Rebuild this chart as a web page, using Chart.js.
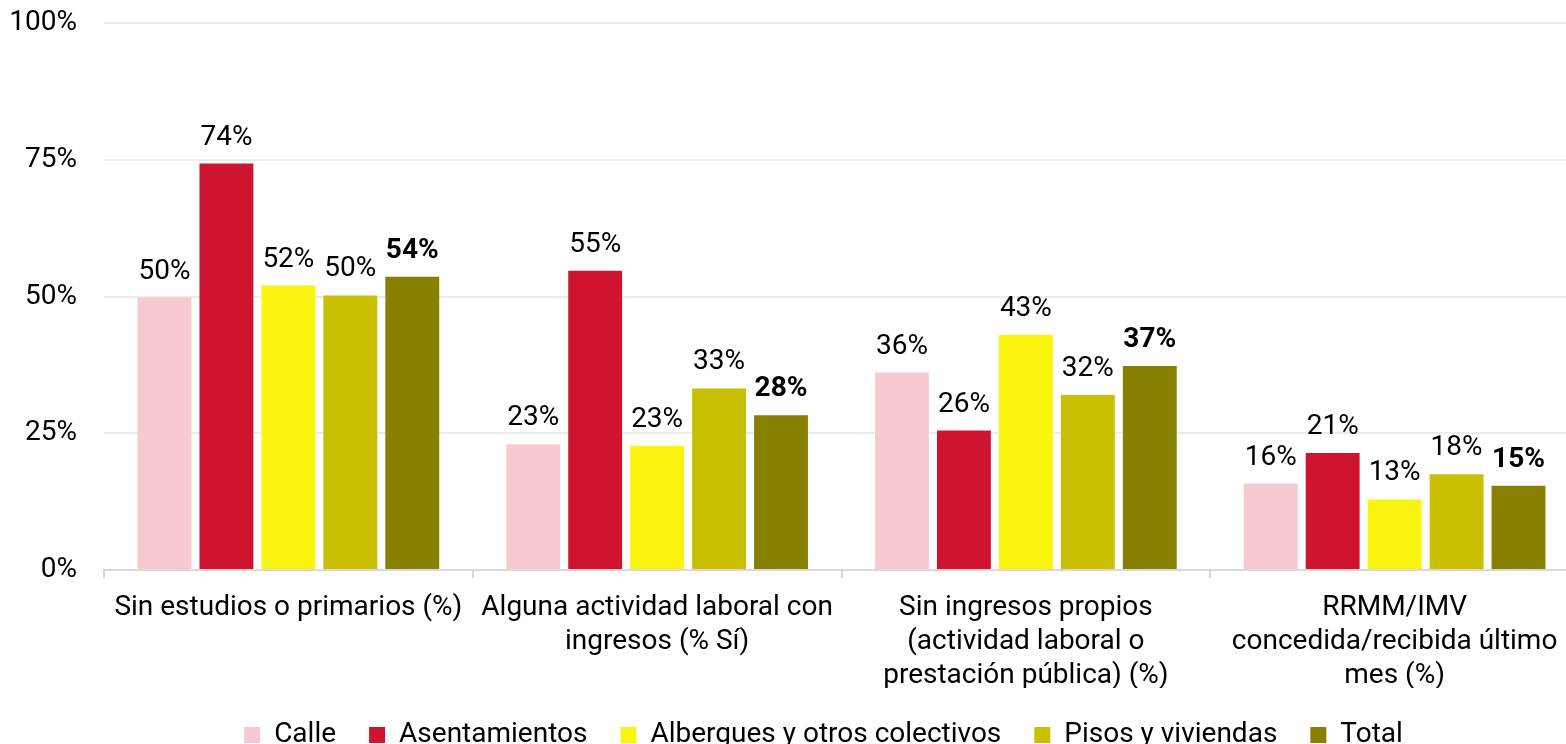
<!DOCTYPE html>
<html>
<head>
<meta charset="utf-8">
<script src="https://cdn.jsdelivr.net/npm/chart.js@4"></script>
<style>
html,body{margin:0;padding:0;overflow:hidden;background:#fff;}
#wrap{width:1580px;height:759px;}
</style>
</head>
<body>
<div id="wrap"><canvas id="c" width="1580" height="759"></canvas></div>
<script>
const categories = [
  ["Sin estudios o primarios (%)"],
  ["Alguna actividad laboral con", "ingresos (% Sí)"],
  ["Sin ingresos propios", "(actividad laboral o", "prestación pública) (%)"],
  ["RRMM/IMV", "concedida/recibida último", "mes (%)"]
];
const seriesNames = ["Calle", "Asentamientos", "Albergues y otros colectivos", "Pisos y viviendas", "Total"];
const calle = [49.8, 23.0, 36.1, 15.8];
const asentamientos = [74.3, 54.7, 25.5, 21.4];
const albergues = [52.0, 22.7, 43.0, 12.9];
const pisos = [50.2, 33.2, 32.0, 17.5];
const total = [53.6, 28.3, 37.3, 15.4];
const yTicks = [0, 25, 50, 75, 100];

const colors = ["#F8C9D0", "#CE142E", "#FBF40F", "#C8C000", "#878000"];
const seriesValues = [calle, asentamientos, albergues, pisos, total];
const FONT = "Roboto";
const FS = 28;

const datasets = seriesNames.map((n, i) => ({
  label: n,
  data: seriesValues[i],
  backgroundColor: colors[i],
  borderWidth: 0,
  categoryPercentage: 0.84,
  barPercentage: 0.87
}));

const labelPlugin = {
  id: 'valueLabels',
  afterDatasetsDraw(chart) {
    const ctx = chart.ctx;
    ctx.save();
    ctx.fillStyle = '#000';
    ctx.textAlign = 'center';
    ctx.textBaseline = 'alphabetic';
    chart.data.datasets.forEach((ds, di) => {
      const meta = chart.getDatasetMeta(di);
      const bold = di === chart.data.datasets.length - 1;
      ctx.font = (bold ? 'bold ' : '') + FS + 'px ' + FONT;
      meta.data.forEach((bar, i) => {
        ctx.fillText(Math.round(ds.data[i]) + '%', bar.x, bar.y - 19);
      });
    });
    ctx.restore();
  }
};

const legendShift = {
  id: 'legendShift',
  afterLayout(chart) {
    if (chart.legend) { chart.legend.left += 34; chart.legend.right += 34; }
  }
};

new Chart(document.getElementById('c'), {
  type: 'bar',
  data: { labels: categories, datasets },
  plugins: [labelPlugin, legendShift],
  options: {
    responsive: false,
    animation: false,
    layout: { padding: { top: 23, right: 1, left: 0, bottom: 0 } },
    plugins: {
      tooltip: { enabled: false },
      legend: {
        position: 'bottom',
        labels: {
          boxWidth: 16, boxHeight: 16, padding: 33,
          color: '#000',
          font: { family: FONT, size: FS }
        }
      }
    },
    scales: {
      x: {
        afterFit(scale) { scale.height = 118; },
        grid: { offset: true, drawOnChartArea: false, color: '#d9d9d9', tickLength: 8, lineWidth: 2 },
        border: { color: '#d9d9d9', width: 2 },
        ticks: { color: '#000', font: { family: FONT, size: FS, lineHeight: 1.22 }, padding: 13, maxRotation: 0, autoSkip: false }
      },
      y: {
        min: 0, max: 100,
        afterFit(scale) { scale.width = 104; scale.paddingTop = 0; scale.paddingBottom = 0; },
        afterBuildTicks(scale) { scale.ticks = yTicks.map(v => ({ value: v })); },
        grid: { color: '#ececec', drawTicks: false, lineWidth: 2 },
        border: { display: false },
        ticks: { color: '#000', padding: 27, font: { family: FONT, size: FS }, callback: v => v + '%' }
      }
    }
  }
});
</script>
</body>
</html>
